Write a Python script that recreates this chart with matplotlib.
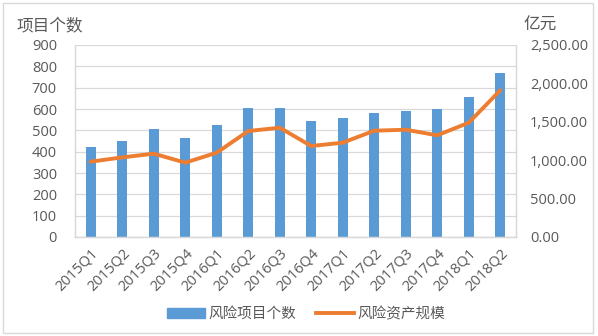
import matplotlib
matplotlib.use("Agg")
import matplotlib.pyplot as plt
from matplotlib.ticker import FuncFormatter, MultipleLocator
from matplotlib.patches import Rectangle, Patch
from matplotlib.lines import Line2D

plt.rcParams['font.family'] = ['Noto Sans CJK SC', 'DejaVu Sans']

quarters = ["2015Q1", "2015Q2", "2015Q3", "2015Q4", "2016Q1", "2016Q2", "2016Q3",
            "2016Q4", "2017Q1", "2017Q2", "2017Q3", "2017Q4", "2018Q1", "2018Q2"]
project_counts = [422, 450, 506, 464, 525, 605, 605, 544, 559, 581, 591, 602, 656, 769]
asset_scale = [981, 1037, 1085, 968, 1098, 1380, 1423, 1185, 1228, 1384, 1397, 1324, 1488, 1910]

BLUE = "#5B9BD5"
ORANGE = "#ED7D31"
GRAY_TXT = "#595959"
GRID = "#D9D9D9"
TICK_FONT = ['Open Sans', 'DejaVu Sans']

fig = plt.figure(figsize=(5.98, 3.36), dpi=100)
ax = fig.add_axes([75/598, 1 - 237/336, (516-75)/598, (237-45)/336])
ax2 = ax.twinx()

x = list(range(len(quarters)))
ax.bar(x, project_counts, width=0.32, color=BLUE, zorder=2)
ax2.plot(x, asset_scale, color=ORANGE, linewidth=2.8, solid_capstyle='round', zorder=3)

ax.set_ylim(0, 900)
ax.yaxis.set_major_locator(MultipleLocator(100))
ax2.set_ylim(0, 2500)
ax2.yaxis.set_major_locator(MultipleLocator(500))
ax2.yaxis.set_major_formatter(FuncFormatter(lambda v, p: f"{v:,.2f}"))
ax.set_xlim(-0.5, len(quarters) - 0.5)

ax.grid(axis='y', color=GRID, linewidth=0.9, zorder=0)
ax.set_axisbelow(True)
ax.set_xticks(x)
ax.set_xticklabels(quarters, rotation=45, ha='right', rotation_mode='anchor')

for a in (ax, ax2):
    a.tick_params(length=0, labelsize=10.5, colors=GRAY_TXT)
    for lbl in a.get_xticklabels() + a.get_yticklabels():
        lbl.set_fontfamily(TICK_FONT)
    for s in a.spines.values():
        s.set_color(GRID)
        s.set_linewidth(0.9)
    a.spines['top'].set_visible(False)
ax.tick_params(axis='y', pad=13)
ax2.tick_params(axis='y', pad=10)
ax.tick_params(axis='x', pad=6)

fig.text(17/598, 1 - 27/336, "项目个数", fontsize=12, color=GRAY_TXT, va='center', ha='left')
fig.text(523/598, 1 - 25/336, "亿元", fontsize=12, color=GRAY_TXT, va='center', ha='left')

handles = [Patch(color=BLUE), Line2D([0], [0], color=ORANGE, linewidth=2.8)]
fig.legend(handles, ["风险项目个数", "风险资产规模"], loc='center',
           bbox_to_anchor=(306/598, 1 - 314/336), ncol=2, frameon=False,
           fontsize=10.5, labelcolor=GRAY_TXT, handlelength=2.6, handletextpad=0.2,
           columnspacing=1.4)

fig.patches.append(Rectangle((3/598, 3/336), 590/598, 330/336, transform=fig.transFigure,
                             fill=False, edgecolor=GRID, linewidth=1.0))

fig.savefig("out.png", dpi=100)
